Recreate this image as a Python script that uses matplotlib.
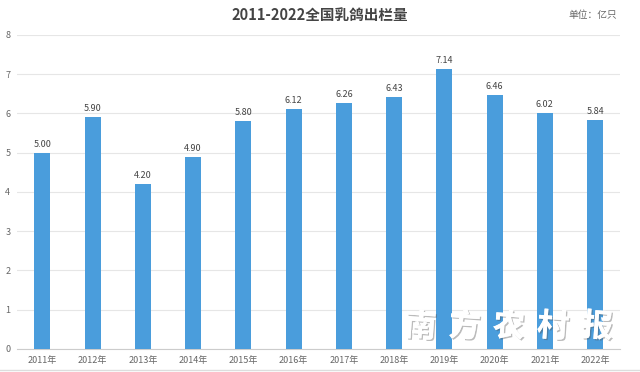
import matplotlib.pyplot as plt
import matplotlib.patheffects as pe

plt.rcParams['font.family'] = ['Noto Sans CJK SC', 'DejaVu Sans']

years = ['2011年', '2012年', '2013年', '2014年', '2015年', '2016年',
         '2017年', '2018年', '2019年', '2020年', '2021年', '2022年']
values = [5.00, 5.90, 4.20, 4.90, 5.80, 6.12, 6.26, 6.43, 7.14, 6.46, 6.02, 5.84]
watermark = '南方农村报'

fig = plt.figure(figsize=(6.4, 3.72), dpi=100)
ax = fig.add_axes([0.027, 0.062, 0.942, 0.844])

x = range(len(years))
bars = ax.bar(x, values, width=0.32, color='#4a9ddc', zorder=3)
for xi, v in zip(x, values):
    ax.text(xi, v + 0.1, f'{v:.2f}', ha='center', va='bottom', fontsize=6.5, color='#444444')

ax.set_xlim(-0.5, len(years) - 0.5)
ax.set_ylim(0, 8)
ax.set_yticks(range(0, 9))
ax.set_xticks(list(x))
ax.set_xticklabels(years)
ax.grid(axis='y', color='#e6e6e6', linewidth=0.8, zorder=0)
for s in ['top', 'right', 'left']:
    ax.spines[s].set_visible(False)
ax.spines['bottom'].set_color('#cccccc')
ax.tick_params(axis='both', length=0, labelsize=6.5, colors='#666666')
ax.tick_params(axis='y', pad=5)
ax.tick_params(axis='x', pad=5)

fig.text(0.5, 0.96, '2011-2022全国乳鸽出栏量', ha='center', va='center',
         fontsize=10.5, fontweight='bold', color='#444444')
fig.text(0.965, 0.96, '单位：亿只', ha='right', va='center', fontsize=7, color='#666666')

fig.add_artist(plt.Line2D([0, 1], [0.006, 0.006], color='#dddddd', linewidth=1))

# watermark, one glyph at a time so it spreads like the original
for i, ch in enumerate(watermark):
    t = fig.text(0.657 + i * 0.069, 0.12, ch, ha='center', va='center', fontsize=23,
                 fontweight='bold', color='white', style='italic', rotation=-4, zorder=10)
    t.set_path_effects([pe.withSimplePatchShadow(offset=(1, -1), shadow_rgbFace='#555555', alpha=0.4),
                        pe.Normal()])

fig.savefig('out.png', dpi=100)
